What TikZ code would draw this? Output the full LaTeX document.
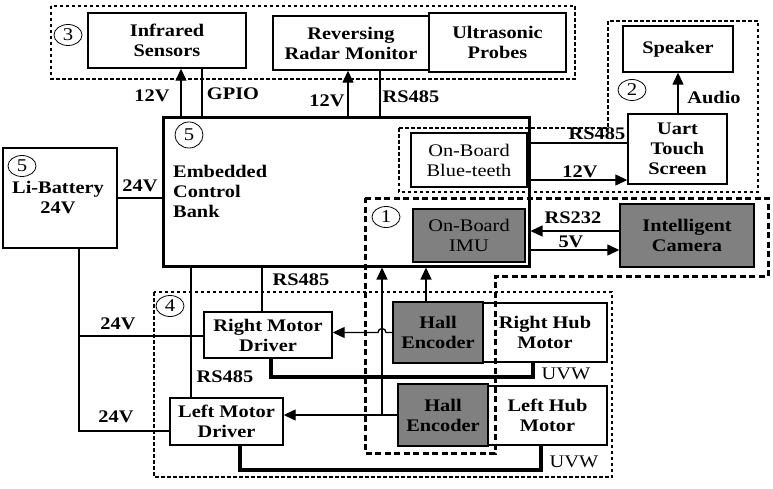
\documentclass[tikz,border=0pt]{standalone}
\usepackage{fontspec}
\setmainfont{Liberation Serif}[FakeStretch=1.15]
\usetikzlibrary{arrows.meta,shapes.geometric}
\definecolor{boxgray}{RGB}{128,128,128}
\tikzset{
  txt/.style={font=\bfseries\fontsize{17.7}{20}\selectfont},
  box/.style={draw, line width=1.4pt, fill=white, inner sep=0pt, align=center, txt},
  gbox/.style={box, fill=boxgray},
  regtext/.style={font=\mdseries\fontsize{17.7}{20}\selectfont},
  lab/.style={txt, inner sep=0pt},
  rlab/.style={regtext, inner sep=0pt},
  wire/.style={line width=1.3pt},
  arr/.style={line width=1.3pt, -{Triangle[length=12pt,width=11pt]}},
  uvw/.style={line width=4.5pt, miter limit=10},
  dbox/.style={line width=1.3pt, dash pattern=on 3.5pt off 2.5pt},
  dthick/.style={line width=3pt, dash pattern=on 6pt off 3.5pt},
  circ/.style={draw, ellipse, line width=0.8pt, minimum width=28pt, minimum height=21pt, inner sep=0pt, font=\fontsize{18}{18}\selectfont},
}
\newcommand\mkbox[7]{\node[#6, minimum width={#4-#2}, minimum height={#5-#3}] (#1) at ({(#2+#4)/2},{(#3+#5)/2}) {#7};}
\begin{document}
\begin{tikzpicture}[x=1pt,y=-1pt]
\useasboundingbox (0,0) rectangle (773,489);

% main control bank
\node[draw, line width=3pt, minimum width=366pt, minimum height=148pt, inner sep=0pt] (ecb) at (346,192) {};
\node[txt, align=left, anchor=west, inner sep=0pt] (ecbt) at (173,191) {Embedded\\Control\\Bank};
\node[circ, minimum height=26pt] (c5a) at (189,135) {5};

% boxes
\mkbox{ir}{88}{13}{246}{68}{box}{Infrared\\Sensors}
\mkbox{rrm}{273}{16}{429}{70}{box}{Reversing\\Radar Monitor}
\mkbox{usp}{429}{13}{566}{72}{box}{Ultrasonic\\Probes}
\mkbox{spk}{623}{26}{733}{72}{box}{Speaker}
\mkbox{uart}{628}{114}{727}{184}{box}{Uart\\Touch\\Screen}
\mkbox{bt}{411}{133}{527}{187}{box, regtext}{On-Board\\Blue-teeth}
\mkbox{bat}{3}{148}{117}{248}{box}{}
\node[txt, align=center, inner sep=0pt] (batt) at (58,197) {Li-Battery\\24V};
\mkbox{imu}{413}{209}{525}{262}{gbox, regtext}{On-Board\\IMU}
\mkbox{cam}{620}{204}{754}{267}{gbox}{Intelligent\\Camera}
\mkbox{rmd}{204}{312}{332}{358}{box}{Right Motor\\Driver}
\mkbox{lmd}{170}{398}{283}{445}{box}{Left Motor\\Driver}
\mkbox{hall1}{393}{302}{483}{363}{gbox}{Hall\\Encoder}
\mkbox{rhm}{483}{303}{607}{362}{box}{Right Hub\\Motor}
\mkbox{hall2}{398}{384}{488}{446}{gbox}{Hall\\Encoder}
\mkbox{lhm}{488}{386}{607}{445}{box}{Left Hub\\Motor}

% circled numbers
\node[circ] (c3) at (68,35) {3};
\node[circ] (c2) at (632,90) {2};
\node[circ] (c5b) at (22,166) {5};
\node[circ] (c1) at (386,217) {1};
\node[circ] (c4) at (170,306) {4};

% top connectors
\draw[arr] (ecb.north -| 181,0) -- (ir.south -| 181,0);
\draw[wire] (ecb.north -| 202,0) -- (ir.south -| 202,0);
\draw[arr] (ecb.north -| 348,0) -- (rrm.south -| 348,0);
\draw[wire] (ecb.north -| 380,0) -- (rrm.south -| 380,0);
\node[lab] (l12a) at (152,96) {12V};
\node[lab] (lgpio) at (233,94) {GPIO};
\node[lab] (l12b) at (327,101) {12V};
\node[lab] (lrs1) at (411,97) {RS485};

% touch screen and speaker
\draw[arr] (uart.north -| 678,0) -- (spk.south -| 678,0);
\node[lab] (laud) at (714,97) {Audio};
\draw[wire] (ecb.east |- 0,143) -- (uart.west |- 0,143);
\draw[arr] (ecb.east |- 0,180) -- (uart.west |- 0,180);
\node[lab] (lrs2) at (597,134) {RS485};
\node[lab] (l12c) at (580,172) {12V};

% camera
\draw[arr] (cam.west |- 0,231) -- (ecb.east |- 0,231);
\draw[arr] (ecb.east |- 0,250) -- (cam.west |- 0,250);
\node[lab] (lrs232) at (573,218) {RS232};
\node[lab] (l5v) at (571,242) {5V};

% battery
\draw[wire] (bat.east) -- (ecb.west |- bat.east);
\node[lab] (l24a) at (140,186) {24V};
\coordinate (bj) at (79,336);
\draw[wire] (bat.south -| 79,0) -- (79,431) -- (lmd.west |- 0,431);
\draw[wire] (bj) -- (rmd.west |- bj);
\node[lab] (l24b) at (118,324) {24V};
\node[lab] (l24c) at (116,417) {24V};

% drivers to control bank
\draw[wire] (ecb.south -| 262,0) -- (rmd.north -| 262,0);
\draw[wire] (ecb.south -| 191,0) -- (lmd.north -| 191,0);
\node[lab] (lrs3) at (301,280) {RS485};
\node[lab] (lrs4) at (225,377) {RS485};

% encoders
\draw[arr] (hall1.west) -- (386,332.5) arc[start angle=0, end angle=-180, radius=4] -- (rmd.east |- hall1.west);
\draw[arr] (hall2.west) -- (lmd.east |- hall2.west);
\draw[arr] (382,415) -- (ecb.south -| 382,0);
\draw[arr] (hall1.north -| 426,0) -- (ecb.south -| 426,0);

% UVW
\draw[uvw] (rhm.south -| 533,0) -- (533,377) -- (271,377) -- (rmd.south -| 271,0);
\draw[uvw] (lhm.south -| 541,0) -- (541,470) -- (240,470) -- (lmd.south -| 240,0);
\node[rlab] (luvw1) at (566,374) {UVW};
\node[rlab] (luvw2) at (574,462) {UVW};

% dashed groups
\draw[dbox] (51,6) rectangle (575,79);
\draw[dbox] (399,128) -- (608,128) -- (608,21) -- (758,21) -- (758,192) -- (399,192) -- cycle;
\draw[dbox] (154,292) rectangle (612,477);
\draw[dthick] (365,198) -- (768,198) -- (768,276) -- (495,276) -- (495,453) -- (365,453) -- cycle;
\end{tikzpicture}
\end{document}
